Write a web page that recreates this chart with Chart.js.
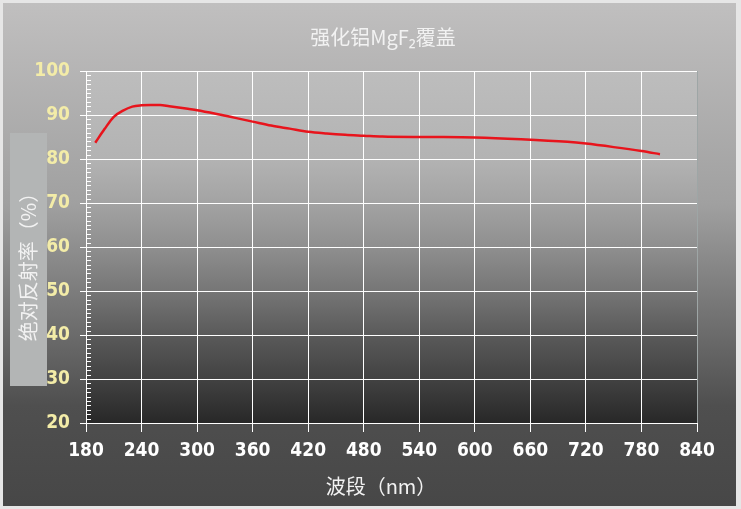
<!DOCTYPE html>
<html>
<head>
<meta charset="utf-8">
<script src="https://cdn.jsdelivr.net/npm/chart.js@4"></script>
<style>
  html, body { margin: 0; padding: 0; background: #e4e4e4; }
  #wrap { width: 741px; height: 509px; }
</style>
</head>
<body>
<div id="wrap"><canvas id="chart" width="741" height="509"></canvas></div>
<script>
/* Reflectance of enhanced aluminium with MgF2 overcoat */

var chartTitle = '强化铝MgF₂覆盖';
var xTitle = '波段（nm）';
var yTitle = '绝对反射率（%）';

// wavelength (nm) and absolute reflectance (%)
var wavelengths = [190, 200, 210, 220, 230, 240, 250, 260, 270, 280, 290, 300,
  320, 340, 360, 380, 400, 420, 440, 460, 480, 500, 550, 600, 650, 700, 720, 750, 780, 800];
var reflectance = [83.7, 86.8, 89.6, 91.0, 91.9, 92.2, 92.3, 92.3, 92.0, 91.7, 91.4, 91.1,
  90.3, 89.4, 88.5, 87.6, 86.9, 86.2, 85.8, 85.5, 85.3, 85.1, 85.0, 84.9, 84.5, 83.9, 83.5, 82.7, 81.8, 81.1];

var xTicks = [180, 240, 300, 360, 420, 480, 540, 600, 660, 720, 780, 840];
var yTicks = [20, 30, 40, 50, 60, 70, 80, 90, 100];

var NUM_FONT = '"Liberation Sans Narrow", "DejaVu Sans Condensed", Arial, sans-serif';
var CJK_FONT = '"Noto Sans CJK SC", "Noto Sans", sans-serif';

// backgrounds, y-title box, titles, minor y ticks
var decor = {
  id: 'decor',
  beforeDraw: function(chart) {
    var ctx = chart.ctx, a = chart.chartArea;
    ctx.save();
    ctx.fillStyle = '#e6e6e6';
    ctx.fillRect(0, 0, chart.width, chart.height);

    var g = ctx.createLinearGradient(0, 3, 0, 506);
    g.addColorStop(0, '#c0bfbf');
    g.addColorStop(0.4, '#a0a0a0');
    g.addColorStop(0.6, '#777777');
    g.addColorStop(0.8, '#4f4f4f');
    g.addColorStop(1, '#474747');
    ctx.fillStyle = g;
    ctx.fillRect(3, 3, 733, 503);

    var pg = ctx.createLinearGradient(0, a.top, 0, a.bottom);
    pg.addColorStop(0, '#bdbdbd');
    pg.addColorStop(0.25, '#b3b3b3');
    pg.addColorStop(0.375, '#a3a3a3');
    pg.addColorStop(0.5, '#8f8f8f');
    pg.addColorStop(0.625, '#767676');
    pg.addColorStop(0.75, '#5a5a5a');
    pg.addColorStop(0.875, '#424242');
    pg.addColorStop(1, '#282828');
    ctx.fillStyle = pg;
    ctx.fillRect(a.left, a.top, a.right - a.left, a.bottom - a.top);

    // y title box
    ctx.fillStyle = '#b3b5b5';
    ctx.fillRect(10, 133, 37, 253);

    ctx.fillStyle = '#f2f2f2';
    ctx.textAlign = 'center';
    ctx.textBaseline = 'middle';
    ctx.font = '20px ' + CJK_FONT;
    ctx.fillText(chartTitle, 383, 37);
    ctx.fillText(xTitle, 381, 486);

    ctx.translate(28, 262);
    ctx.rotate(-Math.PI / 2);
    ctx.fillText(yTitle, 0, 0);
    ctx.restore();
  },
  afterDraw: function(chart) {
    var ctx = chart.ctx, y = chart.scales.y, a = chart.chartArea;
    ctx.save();
    ctx.strokeStyle = '#ffffff';
    ctx.lineWidth = 1;
    ctx.beginPath();
    for (var v = y.min + 1; v < y.max; v++) {
      if (v % 10 === 0) continue;
      var py = Math.round(y.getPixelForValue(v)) + 0.5;
      ctx.moveTo(a.left, py);
      ctx.lineTo(a.left + 5, py);
    }
    ctx.stroke();
    ctx.restore();
  }
};

new Chart(document.getElementById('chart'), {
  type: 'line',
  data: {
    datasets: [{
      label: 'reflectance',
      data: wavelengths.map(function(w, i) { return { x: w, y: reflectance[i] }; }),
      borderColor: '#e8141c',
      borderWidth: 2.5,
      pointRadius: 0,
      fill: false,
      cubicInterpolationMode: 'monotone'
    }]
  },
  options: {
    responsive: false,
    animation: false,
    devicePixelRatio: 1,
    layout: { padding: { top: 71, right: 44, bottom: 0, left: 0 } },
    plugins: {
      legend: { display: false },
      tooltip: { enabled: false }
    },
    scales: {
      x: {
        type: 'linear',
        min: 180,
        max: 840,
        afterFit: function(s) { s.height = 86; },
        afterBuildTicks: function(s) { s.ticks = xTicks.map(function(v) { return { value: v }; }); },
        grid: {
          color: function(c) { return c.tick && c.tick.value === 840 ? '#9ea6a6' : '#ffffff'; },
          lineWidth: 1,
          tickLength: 9,
          tickColor: '#ffffff'
        },
        border: { color: '#ffffff', width: 1 },
        ticks: {
          color: '#ffffff',
          padding: 8,
          maxRotation: 0,
          font: { family: NUM_FONT, size: 19, weight: 'bold' }
        }
      },
      y: {
        min: 20,
        max: 100,
        afterFit: function(s) { s.width = 86; },
        afterBuildTicks: function(s) { s.ticks = yTicks.map(function(v) { return { value: v }; }); },
        grid: {
          color: '#ffffff',
          lineWidth: 1,
          tickLength: 6,
          tickColor: '#ffffff'
        },
        border: { color: '#ffffff', width: 1 },
        ticks: {
          color: '#f3eca8',
          padding: 10,
          font: { family: NUM_FONT, size: 19, weight: 'bold' }
        }
      }
    }
  },
  plugins: [decor]
});
</script>
</body>
</html>
